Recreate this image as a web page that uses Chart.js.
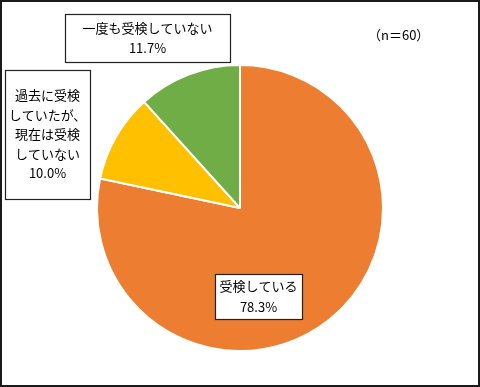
<!DOCTYPE html>
<html>
<head>
<meta charset="utf-8">
<script src="https://cdn.jsdelivr.net/npm/chart.js@4"></script>
<style>
  body { margin: 0; background: #fff; }
  #wrap { width: 480px; height: 387px; position: relative; }
</style>
</head>
<body>
<div id="wrap"><canvas id="myChart" width="480" height="387"></canvas></div>
<script>
// data
let categories = ['受検している', '過去に受検していたが、現在は受検していない', '一度も受検していない'];
let shares = [78.3, 10.0, 11.7];
let sliceColors = ['#ED7D31', '#FFC000', '#70AD47'];
// label text split into lines as in the original
let labelLines = [
    ['受検している'],
    ['過去に受検', 'していたが、', '現在は受検', 'していない'],
    ['一度も受検していない']
];
let sampleNote = '（n＝60）';

// label box placement: [left, top, right, bottom]
let labelBoxes = [
    [215, 274, 302, 319],
    [5, 70, 90, 199],
    [65, 14, 230, 62]
];

const fontFamily = '"Noto Sans CJK JP", "Noto Sans", sans-serif';

const labelPlugin = {
    id: 'labelBoxes',
    afterDatasetsDraw(chart){
        let c = chart.ctx;
        c.save();
        labelBoxes.forEach((box, i)=>{
            let [l, t, r, b] = box;
            c.fillStyle = '#fff';
            c.fillRect(l, t, r - l, b - t);
            c.strokeStyle = '#222';
            c.lineWidth = 1.2;
            c.strokeRect(l + 0.5, t + 0.5, r - l, b - t);
            let lines = labelLines[i].concat([shares[i].toFixed(1) + '%']);
            let lh = i === 1 ? 19.5 : 20.5;
            let cy = (t + b) / 2 - (lines.length - 1) * lh / 2;
            c.fillStyle = '#000';
            c.font = '13px ' + fontFamily;
            c.textAlign = 'center';
            c.textBaseline = 'middle';
            lines.forEach((ln, k)=>{
                c.fillText(ln, (l + r) / 2, cy + k * lh);
            });
        });
        c.font = '13px ' + fontFamily;
        c.textAlign = 'left';
        c.textBaseline = 'middle';
        c.fillStyle = '#000';
        c.fillText(sampleNote, 368, 35);
        // outer frame
        c.strokeStyle = '#1a1a1a';
        c.lineWidth = 2;
        c.strokeRect(1, 1, 478, 385);
        c.restore();
    }
};

let ctx = document.getElementById('myChart').getContext('2d');
let myChart = new Chart(ctx, {
    type: 'pie',
    data: {
        labels: categories,
        datasets: [{
            data: shares,
            backgroundColor: sliceColors,
            borderColor: '#fff',
            borderWidth: 2
        }]
    },
    options: {
        responsive: false,
        animation: false,
        layout: { padding: { top: 64, bottom: 35, left: 0, right: 0 } },
        plugins: {
            legend: { display: false },
            tooltip: { enabled: false }
        }
    },
    plugins: [labelPlugin]
});
</script>
</body>
</html>
